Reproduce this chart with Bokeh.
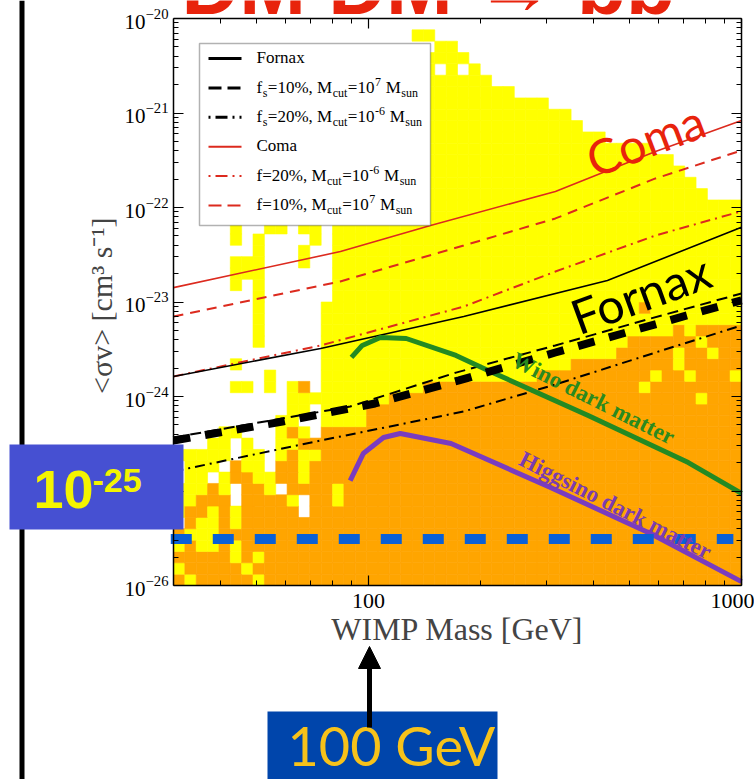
import numpy as np
from bokeh.plotting import figure
from bokeh.models import (FixedTicker, LogAxis, BasicTickFormatter, LogTickFormatter, Grid,
                          CustomJSTickFormatter, Label, BoxAnnotation, Arrow, NormalHead)
from bokeh.embed import file_html
from bokeh.resources import INLINE

# ------------------------------------------------------------------ data
MASS_RANGE = (30, 1000)            # GeV
SV_RANGE = (1e-26, 1e-20)          # cm^3 s^-1
N_MASS_BINS = 50
N_SV_BINS = 50

x_major = [100, 1000]
x_minor = [40, 50, 60, 70, 80, 90, 200, 300, 400, 500, 600, 700, 800, 900]
y_major = [1e-26, 1e-25, 1e-24, 1e-23, 1e-22, 1e-21, 1e-20]
y_minor = [k * 10.0 ** e for e in range(-26, -20) for k in range(2, 10)]

# scan-point density map (row index = <sigma v> bin, column index = mass bin)
dense_first_col = 13
orange_top = [13, 13, 13, 13, 15, 15, 16, 16, 16, 17, 17, 17, 17, 17, 17, 17, 17, 17, 17,
              18, 18, 18, 19, 19, 19, 19, 20, 21, 21, 21, 21, 21, 21, 22, 22, 22, 22]
yellow_top = [24, 31, 31, 31, 31, 31, 31, 31, 31, 46, 47, 47, 46, 45, 44, 43, 43, 42, 42,
              42, 41, 41, 40, 39, 39, 38, 38, 38, 38, 37, 37, 36, 35, 34, 33, 33, 33]
# sparse low-mass columns 0..12, rows 31 (top) down to 0
left_cells = [
    ".....y..yy.yy", ".....y.y....y", ".......y...y.", ".....yyy...y.",
    ".....yyy.....", ".....y.y.....", ".......y.....", ".......y.....",
    ".......y.....", ".......y.....", ".......y.....", ".............",
    ".....y.......", "........y....", ".....yy.y.yo.", "..........yyy",
    "..........yy.", ".........yy..", "....yy...yoy.", "...yy.y..yyoo",
    "yyyyy.yy.yoyy", ".yyy.oyy.ooyo", ".yy.yooyyooyo", "yyyoy.ooy.ooo",
    "yyooo.ooooy.o", "yooyoyooooo.o", ".oyyoyooooooo", "oyyyooooooooo",
    "yoyyoyooooooo", "oooooyoyooooo", "yoooooyoooooo", "oyoooooyooooo",
]
extra_yellow = [(48, 21), (48, 22), (7, 14), (8, 14), (16, 46), (17, 41), (18, 42),
                (18, 45), (18, 49), (19, 44), (20, 44), (20, 47), (21, 46)]
extra_orange = [(24, 41), (22, 44)]
extra_white = [(45, 23), (45, 25)]

# limit curves
coma_mass = [30, 84.1, 146.6, 317, 588, 1000]
coma_sv = [1.42e-23, 3.42e-23, 6.46e-23, 1.48e-22, 3.92e-22, 8.32e-22]
coma_f10_mass = [30, 84, 180, 317, 588, 1000]
coma_f10_sv = [7.03e-24, 1.65e-23, 3.96e-23, 7.66e-23, 2.03e-22, 4.01e-22]
coma_f20_mass = [30, 74.4, 180, 317, 588, 1000]
coma_f20_sv = [1.63e-24, 3.47e-24, 8.95e-24, 2.10e-23, 5.06e-23, 9.12e-23]
fornax_mass = [30, 74.4, 180, 437, 1000]
fornax_sv = [1.63e-24, 3.22e-24, 7.03e-24, 1.69e-23, 6.17e-23]
fornax_f10_mass = [30, 89.3, 171.6, 316.8, 570, 1000]
fornax_f10_sv = [3.68e-25, 7.83e-25, 1.79e-24, 3.47e-24, 6.68e-24, 1.23e-23]
fornax_f20_mass = [30, 74.4, 179.7, 316.8, 588, 1000]
fornax_f20_sv = [1.61e-25, 3.42e-25, 6.93e-25, 1.34e-24, 2.92e-24, 5.64e-24]
highlight_mass = [30, 58.8, 104.1, 174.8, 316.8, 536, 889, 1000]
highlight_sv = [3.42e-25, 5.43e-25, 8.43e-25, 1.48e-24, 2.92e-24, 5.25e-24, 9.18e-24, 1.04e-23]
wino_mass = [90.0, 96.2, 107.6, 126.2, 171.6, 212, 388, 720, 1000]
wino_sv = [2.59e-24, 3.47e-24, 4.21e-24, 4.11e-24, 2.72e-24, 1.84e-24, 6.30e-25, 2.00e-25, 9.42e-26]
higgsino_mass = [89.3, 96.8, 109.7, 121.6, 166.4, 307.5, 570, 1000]
higgsino_sv = [1.29e-25, 2.49e-25, 3.68e-25, 4.06e-25, 3.18e-25, 1.09e-25, 3.55e-26, 1.10e-26]
thermal_mass = [29.5, 951]
thermal_sv = [3.1e-26, 3.1e-26]

# ------------------------------------------------------------------ layout helpers
W, H = 754, 779
FL, FR, FT, FB = 173, 741, 18, 585          # chart box in page pixels


def px2x(px):
    return 10 ** (np.log10(MASS_RANGE[0]) + (px - FL) / (FR - FL) * np.log10(MASS_RANGE[1] / MASS_RANGE[0]))


def py2y(py):
    return 10 ** (np.log10(SV_RANGE[1]) - (py - FT) / (FB - FT) * np.log10(SV_RANGE[1] / SV_RANGE[0]))


# the frame spans the whole slide; the chart's axes are pinned to the chart box
p = figure(width=W, height=H, x_axis_type="log", y_axis_type="log",
           x_axis_location=None, y_axis_location=None,
           x_range=(px2x(0), px2x(W)), y_range=(py2y(H), py2y(0)),
           output_backend="svg", toolbar_location=None,
           min_border_left=0, min_border_right=0, min_border_top=0, min_border_bottom=0)
p.background_fill_color = "white"
p.border_fill_color = "white"
p.outline_line_color = None
p.center = [r for r in p.center if not isinstance(r, Grid)]

# ------------------------------------------------------------------ density map
grid = np.full((N_SV_BINS, N_MASS_BINS), ".", dtype="<U1")
for k, c in enumerate(range(dense_first_col, N_MASS_BINS)):
    grid[: orange_top[k] + 1, c] = "o"
    grid[orange_top[k] + 1: yellow_top[k] + 1, c] = "y"
for i, s in enumerate(left_cells):
    r = 31 - i
    for c, ch in enumerate(s):
        grid[r, c] = ch
for r, c in extra_yellow:
    grid[r, c] = "y"
for r, c in extra_orange:
    grid[r, c] = "o"
for r, c in extra_white:
    grid[r, c] = "."

mass_edges = np.geomspace(MASS_RANGE[0], MASS_RANGE[1], N_MASS_BINS + 1)
sv_edges = np.geomspace(SV_RANGE[0], SV_RANGE[1], N_SV_BINS + 1)
cmap = {"y": "#ffff00", "o": "#ffa500"}
L, R, B, T, C = [], [], [], [], []
for r in range(N_SV_BINS):
    for c in range(N_MASS_BINS):
        ch = grid[r, c]
        if ch in cmap:
            L.append(mass_edges[c]); R.append(mass_edges[c + 1])
            B.append(sv_edges[r]); T.append(sv_edges[r + 1]); C.append(cmap[ch])
p.quad(left=L, right=R, bottom=B, top=T, fill_color=C, line_color=C, line_width=0.6)

# ------------------------------------------------------------------ curves
RED = "#dc2a1e"
p.line(coma_mass, coma_sv, line_color=RED, line_width=1.6)
p.line(coma_f10_mass, coma_f10_sv, line_color=RED, line_width=2, line_dash="10 7")
p.line(coma_f20_mass, coma_f20_sv, line_color=RED, line_width=2, line_dash="10 5 2 5")
p.line(fornax_mass, fornax_sv, line_color="black", line_width=1.6)
p.line(fornax_f10_mass, fornax_f10_sv, line_color="black", line_width=2, line_dash="11 6")
p.line(fornax_f20_mass, fornax_f20_sv, line_color="black", line_width=2, line_dash="10 5 2 5")
p.line(wino_mass, wino_sv, line_color="#238a23", line_width=5)
p.line(higgsino_mass, higgsino_sv, line_color="#7a3cbf", line_width=5)
p.line(highlight_mass, highlight_sv, line_color="black", line_width=8, line_dash="17 15")
p.line(thermal_mass, thermal_sv, line_color="#0a60d6", line_width=10, line_dash="21 21")

# ------------------------------------------------------------------ axes (pinned to the chart box)
blank = CustomJSTickFormatter(code="return ''")
xb = LogAxis(fixed_location=SV_RANGE[0], bounds=MASS_RANGE,
             ticker=FixedTicker(ticks=x_major, minor_ticks=x_minor),
             formatter=BasicTickFormatter(use_scientific=False))
xt = LogAxis(fixed_location=SV_RANGE[1], bounds=MASS_RANGE,
             ticker=FixedTicker(ticks=x_major, minor_ticks=x_minor), formatter=blank)
yl = LogAxis(fixed_location=MASS_RANGE[0], bounds=SV_RANGE,
             ticker=FixedTicker(ticks=y_major, minor_ticks=y_minor), formatter=LogTickFormatter())
yr = LogAxis(fixed_location=MASS_RANGE[1], bounds=SV_RANGE,
             ticker=FixedTicker(ticks=y_major, minor_ticks=y_minor), formatter=blank)
p.add_layout(xb, "below")
p.add_layout(xt, "above")
p.add_layout(yl, "left")
p.add_layout(yr, "right")
for ax in (xb, xt, yl, yr):
    ax.major_tick_in = 10
    ax.major_tick_out = 0
    ax.minor_tick_in = 5
    ax.minor_tick_out = 0
    ax.axis_line_color = "black"
    ax.axis_line_width = 1.5
    ax.major_tick_line_width = 1.2
    ax.major_label_text_font = "Liberation Serif"
    ax.major_label_text_color = "black"
    ax.major_label_text_font_size = "22px"
    ax.major_label_standoff = 0
yl.major_label_text_font_size = "21px"
xb.major_label_standoff = 8
yl.major_label_standoff = 5
xb.axis_label = "WIMP Mass [GeV]"
xb.axis_label_text_font = "Liberation Serif"
xb.axis_label_text_font_style = "normal"
xb.axis_label_text_font_size = "32px"
xb.axis_label_standoff = 0
yl.axis_label = "<σv>  [cm³ s⁻¹]"
yl.axis_label_text_font = "Liberation Serif"
yl.axis_label_text_font_style = "normal"
yl.axis_label_text_font_size = "30px"
yl.axis_label_standoff = 4

# ------------------------------------------------------------------ legend (manual, with sub/superscripts)
TIMES_W = {'F': .556, 'o': .5, 'r': .333, 'n': .5, 'a': .444, 'x': .5, 'f': .333, 's': .389,
           '=': .564, '1': .5, '0': .5, '2': .5, '7': .5, '6': .5, '%': .833, ',': .25, ' ': .25,
           'M': .889, 'c': .444, 'u': .5, 't': .278, '-': .333, 'C': .667, 'm': .778}
LEG_FS, SCRIPT_FS = 17, 12
p.add_layout(BoxAnnotation(left=px2x(199), right=px2x(430), top=py2y(43), bottom=py2y(225),
                           fill_color="white", fill_alpha=1, line_color="black", line_width=1.5))
legend_rows = [
    ("black", None, 3, [("Fornax", "n")]),
    ("black", "13 6", 3, [("f", "n"), ("s", "sub"), ("=10%, M", "n"), ("cut", "sub"), ("=10", "n"),
                          ("7", "sup"), (" M", "n"), ("sun", "sub")]),
    ("black", "2 5 12 5", 3, [("f", "n"), ("s", "sub"), ("=20%, M", "n"), ("cut", "sub"), ("=10", "n"),
                              ("-6", "sup"), (" M", "n"), ("sun", "sub")]),
    (RED, None, 2, [("Coma", "n")]),
    (RED, "2 5 12 5", 2, [("f=20%, M", "n"), ("cut", "sub"), ("=10", "n"), ("-6", "sup"),
                          (" M", "n"), ("sun", "sub")]),
    (RED, "13 6", 2, [("f=10%, M", "n"), ("cut", "sub"), ("=10", "n"), ("7", "sup"),
                      (" M", "n"), ("sun", "sub")]),
]
SERIF_MID = 0.3375          # box centre above the baseline, in em (Liberation Serif)
for i, (col, dash, lw, runs) in enumerate(legend_rows):
    base = 63 + i * 29.4
    kw = dict(line_color=col, line_width=lw)
    if dash:
        kw["line_dash"] = dash
    p.add_layout(Arrow(end=None, x_start=px2x(208), x_end=px2x(241),
                       y_start=py2y(base - 5), y_end=py2y(base - 5), **kw))
    cur = 256.0
    for txt, kind in runs:
        fs = LEG_FS if kind == "n" else SCRIPT_FS
        dy = {"n": 0, "sub": 4, "sup": -7}[kind]
        if txt.startswith(" "):
            cur += TIMES_W[' '] * fs
            txt = txt.lstrip()
        p.add_layout(Label(x=px2x(cur), y=py2y(base + dy - SERIF_MID * fs), text=txt,
                           text_font="Liberation Serif", text_font_size=f"{fs}px",
                           text_baseline="middle", text_align="left", text_color="black"))
        cur += sum(TIMES_W[ch] for ch in txt) * fs + 0.5

# ------------------------------------------------------------------ in-plot annotations
p.add_layout(Label(x=px2x(645), y=py2y(139), text="Coma", text_font="Lato", text_font_size="48px",
                   text_color="#e8230c", text_align="center", text_baseline="middle", angle=0.36))
p.add_layout(Label(x=px2x(640), y=py2y(293), text="Fornax", text_font="Lato", text_font_size="48px",
                   text_color="black", text_align="center", text_baseline="middle", angle=0.35))
p.add_layout(Label(x=px2x(593), y=py2y(398), text="Wino dark matter", text_font="Liberation Serif",
                   text_font_style="bold", text_font_size="23px", text_color="#2a8a1f",
                   text_align="center", text_baseline="middle", angle=-0.464))
p.add_layout(Label(x=px2x(615), y=py2y(505), text="Higgsino dark matter", text_font="Liberation Serif",
                   text_font_style="bold", text_font_size="23px", text_color="#7b3cb0",
                   text_align="center", text_baseline="middle", angle=-0.468))

# ------------------------------------------------------------------ slide overlays
p.add_layout(Arrow(end=None, x_start=px2x(21.5), x_end=px2x(21.5), y_start=py2y(0), y_end=py2y(H),
                   line_color="black", line_width=5))
p.add_layout(BoxAnnotation(left=px2x(9), right=px2x(183), top=py2y(444), bottom=py2y(529),
                           fill_color="#4650d2", fill_alpha=1, line_color=None))
p.add_layout(Label(x=px2x(33), y=py2y(489), text="10", text_font="Liberation Sans",
                   text_font_style="bold", text_font_size="54px", text_color="#f4f400",
                   text_baseline="middle", text_align="left"))
p.add_layout(Label(x=px2x(92), y=py2y(480), text="-25", text_font="Liberation Sans",
                   text_font_style="bold", text_font_size="34px", text_color="#f4f400",
                   text_baseline="middle", text_align="left"))
p.add_layout(BoxAnnotation(left=px2x(267), right=px2x(497), top=py2y(711), bottom=py2y(H + 5),
                           fill_color="#0045ab", fill_alpha=1, line_color=None))
p.add_layout(Label(x=px2x(287), y=py2y(745), text="100 GeV", text_font="Lato",
                   text_font_size="54px", text_color="#f7c21a",
                   text_baseline="middle", text_align="left"))
p.add_layout(Arrow(end=NormalHead(size=22, fill_color="black", line_color="black"),
                   x_start=px2x(369), y_start=py2y(727), x_end=px2x(369), y_end=py2y(646),
                   line_color="black", line_width=5))
# slide title, only its lower edge shows at the top of the page
p.add_layout(Label(x=px2x(181), y=py2y(30), text="DM DM → bb", text_font="Liberation Sans",
                   text_font_style="bold", text_font_size="80px", text_color="#e8230c",
                   text_baseline="bottom", text_align="left"))

open("out.html", "w").write(file_html(p, INLINE))
